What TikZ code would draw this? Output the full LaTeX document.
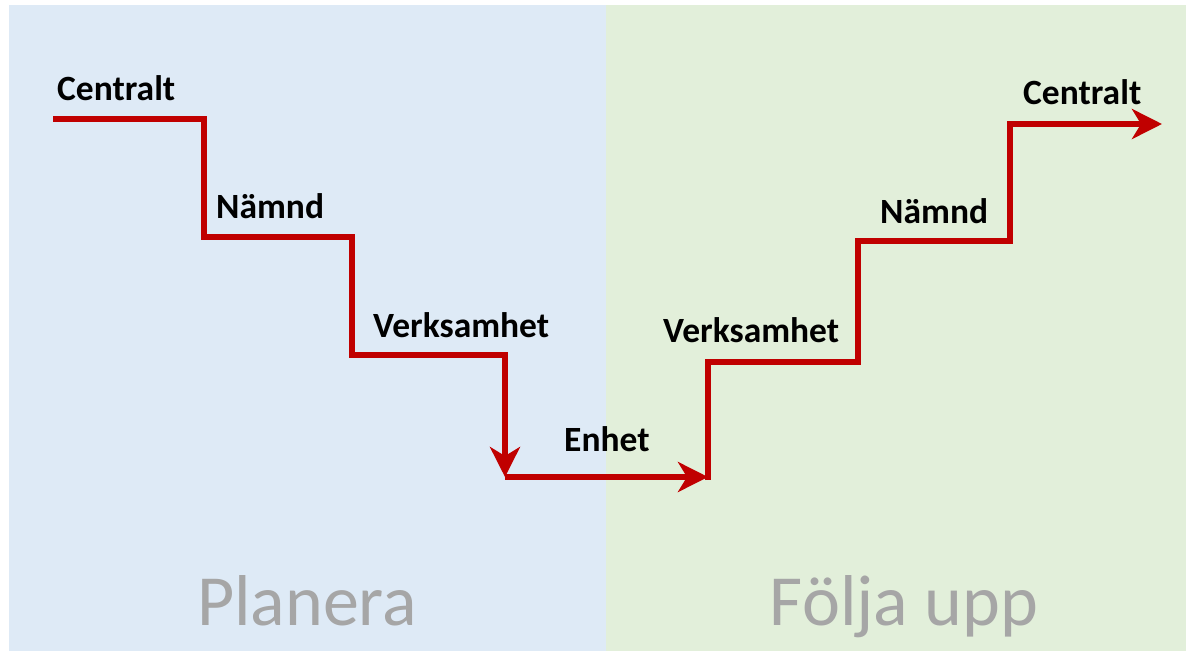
\documentclass[tikz,border=0pt]{standalone}
\usepackage{fontspec}
\setmainfont{Carlito}
\usepackage{tikz}
\usetikzlibrary{arrows.meta}
\usepackage{xcolor}
\definecolor{planblue}{HTML}{DEEAF6}
\definecolor{followgreen}{HTML}{E2EFDA}
\definecolor{stepred}{HTML}{C00000}
\definecolor{phasegray}{HTML}{A6A6A6}

\begin{document}
\begin{tikzpicture}[x=1pt,y=-1pt,
  stepline/.style={line width=5.5pt, draw=stepred, line join=miter},
  steparrow/.style={stepline, -{Stealth[length=30pt,width=30pt,inset=9pt]}},
  level/.style={font=\fontsize{35.5}{42}\selectfont\bfseries, inner sep=0pt, anchor=base west},
  phase/.style={font=\fontsize{72}{86}\selectfont, text=phasegray, inner sep=0pt, anchor=base}]
\useasboundingbox (0,0) rectangle (1186,653);
\fill [planblue] (9,5) rectangle (606,651);
\fill [followgreen] (606,5) rectangle (1186,651);
% trappan ner
\coordinate (p0) at (53,119);
\coordinate (p1) at (204,119);
\coordinate (p2) at (204,237);
\coordinate (p3) at (352,237);
\coordinate (p4) at (352,355);
\coordinate (p5) at (505,355);
\coordinate (p6) at (505,477);
% trappan upp
\coordinate (q0) at (708,477);
\coordinate (q1) at (708,362);
\coordinate (q2) at (858,362);
\coordinate (q3) at (858,241);
\coordinate (q4) at (1010,241);
\coordinate (q5) at (1010,124);
\coordinate (q6) at (1162,124);
\draw [steparrow] (p0) -- (p1) -- (p2) -- (p3) -- (p4) -- (p5) -- (p6);
\draw [steparrow] (p6) -- (q0);
\draw [steparrow] ([yshift=-3pt]q0) -- (q1) -- (q2) -- (q3) -- (q4) -- (q5) -- (q6);
\node [level] (centralt1) at (57,100) {Centralt};
\node [level] (namnd1) at (216,218) {Nämnd};
\node [level] (verks1) at (373,337) {Verksamhet};
\node [level] (enhet) at (564,451) {Enhet};
\node [level] (verks2) at (663,342) {Verksamhet};
\node [level] (namnd2) at (880,223) {Nämnd};
\node [level] (centralt2) at (1023,104) {Centralt};
\node [phase] (planera) at (307,625) {Planera};
\node [phase] (folja) at (904,625) {Följa upp};
\end{tikzpicture}
\end{document}
